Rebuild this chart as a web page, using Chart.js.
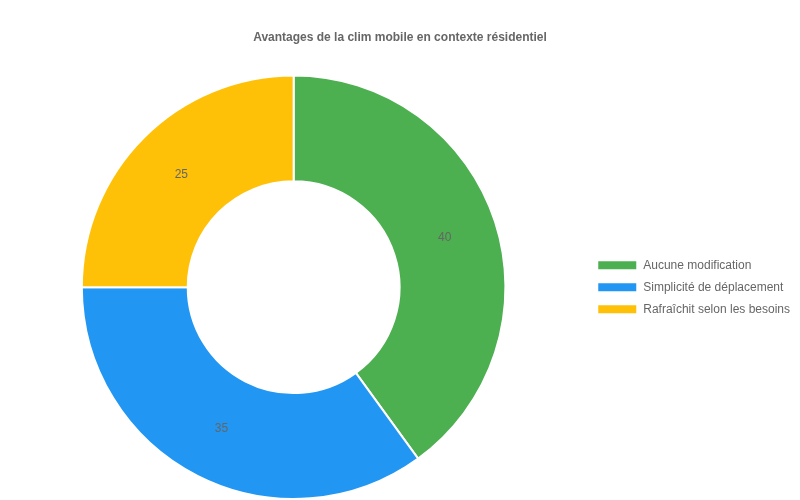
<!DOCTYPE html>
<html>
<head>
<meta charset="utf-8">
<script src="https://cdn.jsdelivr.net/npm/chart.js@4/dist/chart.umd.min.js"></script>
<style>
  html, body { margin: 0; padding: 0; background: #fff; }
  #wrap { width: 800px; height: 500px; }
</style>
</head>
<body>
<div id="wrap"><canvas id="chart"></canvas></div>
<script>
const labels = ['Aucune modification', 'Simplicité de déplacement', 'Rafraîchit selon les besoins'];
const values = [40, 35, 25];
const colors = ['#4CAF50', '#2196F3', '#FFC107'];

// Draw values at the middle of each slice
const sliceLabels = {
    id: 'sliceLabels',
    afterDatasetsDraw(chart) {
        const ctx = chart.ctx;
        const meta = chart.getDatasetMeta(0);
        ctx.save();
        ctx.font = '12px "Liberation Sans", Arial, sans-serif';
        ctx.fillStyle = '#666';
        ctx.textAlign = 'center';
        ctx.textBaseline = 'middle';
        meta.data.forEach((arc, i) => {
            const p = arc.tooltipPosition();
            ctx.fillText(String(values[i]), p.x, p.y);
        });
        ctx.restore();
    }
};

Chart.defaults.font.family = '"Liberation Sans", Arial, sans-serif';
Chart.defaults.color = '#666';

new Chart(document.getElementById('chart'), {
    type: 'doughnut',
    data: {
        labels: labels,
        datasets: [{
            data: values,
            backgroundColor: colors,
            borderColor: '#fff',
            borderWidth: 2
        }]
    },
    options: {
        responsive: true,
        maintainAspectRatio: false,
        animation: false,
        cutout: '50%',
        plugins: {
            title: {
                display: true,
                text: 'Avantages de la clim mobile en contexte résidentiel',
                font: { size: 12, weight: 'bold' },
                color: '#666',
                padding: { top: 30, bottom: 30 }
            },
            legend: {
                position: 'right',
                fullSize: false,
                labels: {
                    boxWidth: 40,
                    boxHeight: 10,
                    font: { size: 12 },
                    color: '#666'
                }
            },
            tooltip: { enabled: false }
        }
    },
    plugins: [sliceLabels]
});
</script>
</body>
</html>
